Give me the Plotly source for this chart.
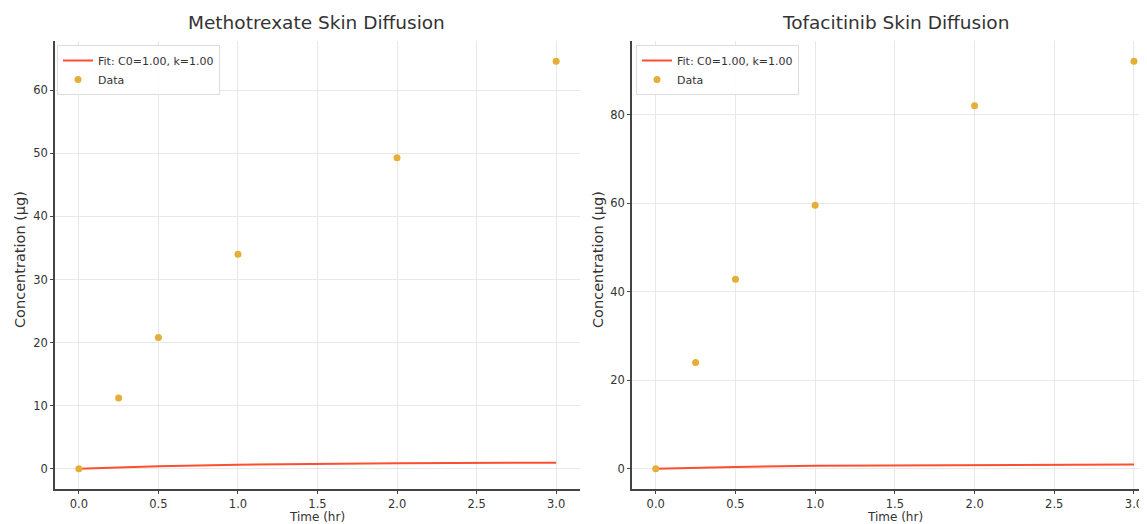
import plotly.graph_objects as go

time_hr = [0.0, 0.25, 0.5, 1.0, 2.0, 3.0]
mtx_conc = [0.0, 11.2, 20.8, 34.0, 49.3, 64.6]
tofa_conc = [0.0, 24.0, 42.8, 59.5, 82.0, 92.0]
fit_conc = [0.0, 0.22, 0.39, 0.63, 0.86, 0.95]
titles = ["Methotrexate Skin Diffusion", "Tofacitinib Skin Diffusion"]
fit_label = "Fit: C0=1.00, k=1.00"
data_label = "Data"

LINE_C = "#fc4f30"
DOT_C = "#e5ae38"
FONT = "DejaVu Sans"

W, H, T, B = 1147, 524, 33, 43
ph = H - T - B

def px(x):
    return x / W

def py(y):
    return (H - B - y) / ph

fig = go.Figure()

for i, (conc, leg) in enumerate([(mtx_conc, "legend"), (tofa_conc, "legend2")]):
    xa = "x" if i == 0 else "x2"
    ya = "y" if i == 0 else "y2"
    fig.add_trace(go.Scatter(x=time_hr, y=fit_conc, mode="lines", name=fit_label,
                             line=dict(color=LINE_C, width=2), xaxis=xa, yaxis=ya, legend=leg))
    fig.add_trace(go.Scatter(x=time_hr, y=conc, mode="markers", name=data_label,
                             marker=dict(color=DOT_C, size=7), xaxis=xa, yaxis=ya, legend=leg))

axis_common = dict(showgrid=True, gridcolor="#e8e8e8", gridwidth=1, zeroline=False,
                   showline=True, linecolor="#444", linewidth=1.5, ticks="outside",
                   ticklen=3, tickcolor="#444", tickfont=dict(size=11.5, color="#333", family=FONT))

legend_common = dict(xanchor="left", yanchor="top", bgcolor="rgba(255,255,255,0.85)",
                     bordercolor="#dddddd", borderwidth=1, font=dict(size=11, family=FONT, color="#333"),
                     tracegroupgap=0, itemwidth=30)

fig.update_layout(
    width=W, height=H, plot_bgcolor="white", paper_bgcolor="white",
    margin=dict(l=0, r=0, t=T, b=B),
    font=dict(family=FONT, color="#333"),
    showlegend=True,
    xaxis=dict(domain=[px(47), px(572)], range=[-0.15, 3.15], dtick=0.5, tickformat=".1f", anchor="y", **axis_common),
    yaxis=dict(domain=[0, 1], range=[-3.23, 67.83], dtick=10, anchor="x", **axis_common),
    xaxis2=dict(domain=[px(624), 1.0], range=[-0.149, 3.132], dtick=0.5, tickformat=".1f", anchor="y2", **axis_common),
    yaxis2=dict(domain=[0, 1], range=[-4.6, 96.6], dtick=20, anchor="x2", **axis_common),
    legend=dict(x=px(49), y=py(37), **legend_common),
    legend2=dict(x=px(628), y=py(37), **legend_common),
)

ann_specs = [
    (titles[0], 309, 14, 0, 18.5),
    (titles[1], 887, 14, 0, 18.5),
    ("Time (hr)", 309, 509, 0, 12),
    ("Time (hr)", 887, 509, 0, 12),
    ("Concentration (µg)", 12, 252, -90, 14.5),
    ("Concentration (µg)", 590, 252, -90, 14.5),
]
fig.update_layout(annotations=[
    dict(text=t, x=px(x), y=py(y), xref="paper", yref="paper", showarrow=False, textangle=a,
         xanchor="center", yanchor="middle", font=dict(size=s, color="#333", family=FONT))
    for t, x, y, a, s in ann_specs
])

fig.write_html("out.html")
